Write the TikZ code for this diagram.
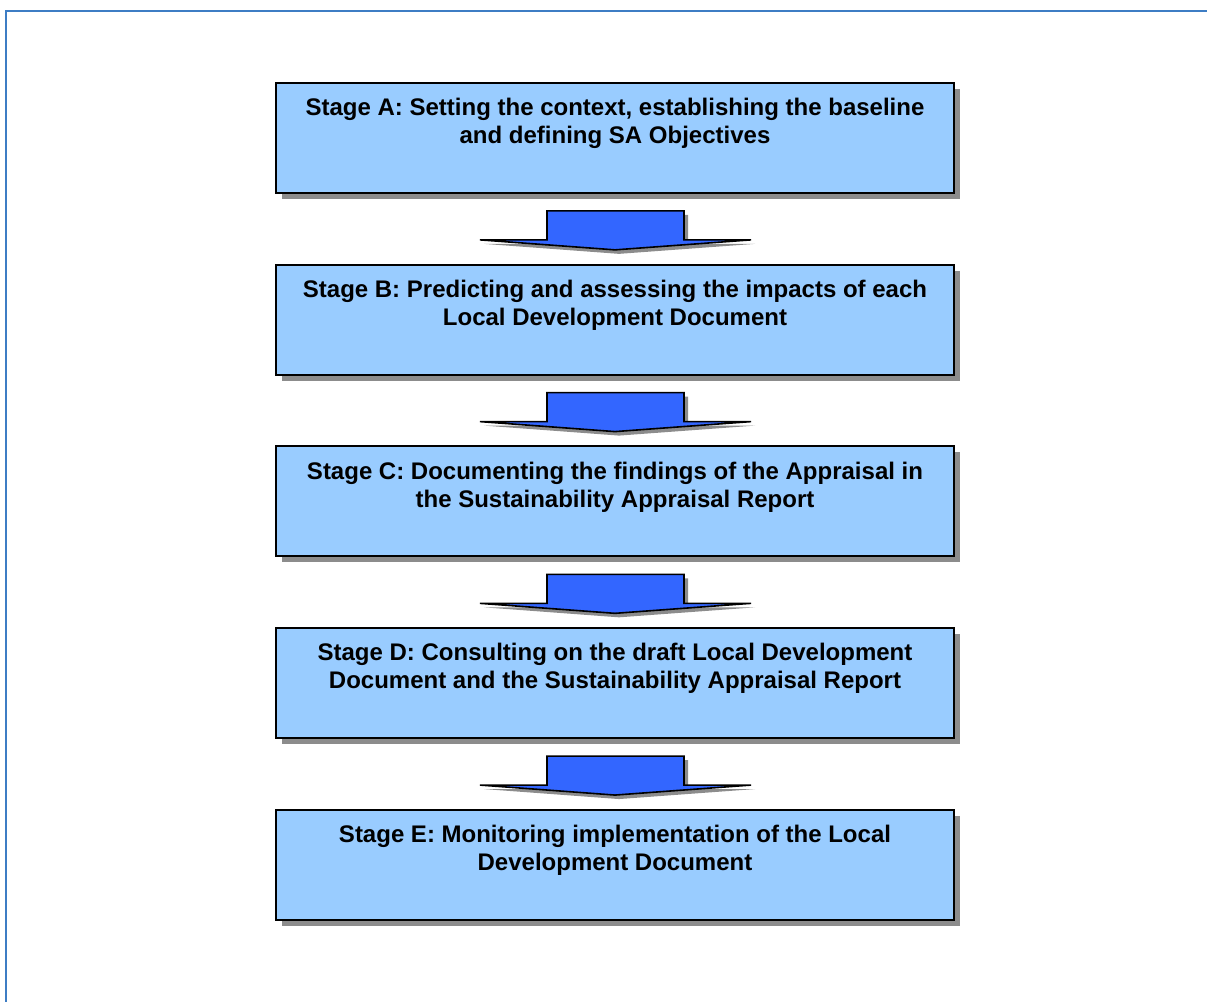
\documentclass[tikz,border=0pt]{standalone}
\usepackage{fontspec}
\setmainfont{Liberation Sans}
\usetikzlibrary{positioning,calc,shadows}

\definecolor{stagefill}{HTML}{99CCFF}
\definecolor{arrowfill}{HTML}{3366FF}
\definecolor{frameblue}{HTML}{3D7DC4}

\tikzset{
  stagebox/.style={draw=black, line width=1.5pt, fill=stagefill,
    minimum width=508.5pt, minimum height=82.5pt, inner sep=0pt,
    drop shadow={shadow xshift=4.5pt, shadow yshift=-4.5pt, fill=gray!90, opacity=1}},
  stagetext/.style={anchor=north, align=center, font=\bfseries\fontsize{18}{21}\selectfont,
    inner sep=0pt, yshift=-12pt},
  stagearrow/.style={draw=black, line width=1.2pt, fill=arrowfill, line join=miter,
    drop shadow={shadow xshift=3pt, shadow yshift=-3pt, fill=gray!90, opacity=1}}
}

% block arrow between two stages
\newcommand{\stagearrow}[2]{%
  \coordinate (m) at ($(#1.south)!0.5!(#2.north)$);
  \draw[stagearrow] ($(m)+(-68,-18)$) -- ($(m)+(69,-18)$) -- ($(m)+(69,11)$)
    -- ($(m)+(136,11)$) -- ($(m)+(0,21)$) -- ($(m)+(-135,11)$)
    -- ($(m)+(-68,11)$) -- cycle;
}

\begin{document}
\begin{tikzpicture}[x=0.75pt,y=-0.75pt]
\useasboundingbox (0,0) rectangle (1207,1002);
\draw[frameblue, line width=2.2pt] (6,1010) -- (6,11) -- (1215,11);

\node[stagebox] (stageA) at (615,138) {};
\node[stagebox, below=52.3pt of stageA] (stageB) {};
\node[stagebox, below=52.3pt of stageB] (stageC) {};
\node[stagebox, below=52.3pt of stageC] (stageD) {};
\node[stagebox, below=52.3pt of stageD] (stageE) {};

\node[stagetext] (textA) at (stageA.north) {Stage A: Setting the context, establishing the baseline\\and defining SA Objectives};
\node[stagetext] (textB) at (stageB.north) {Stage B: Predicting and assessing the impacts of each\\Local Development Document};
\node[stagetext] (textC) at (stageC.north) {Stage C: Documenting the findings of the Appraisal in\\the Sustainability Appraisal Report};
\node[stagetext] (textD) at (stageD.north) {Stage D: Consulting on the draft Local Development\\Document and the Sustainability Appraisal Report};
\node[stagetext] (textE) at (stageE.north) {Stage E: Monitoring implementation of the Local\\Development Document};

\stagearrow{stageA}{stageB}
\stagearrow{stageB}{stageC}
\stagearrow{stageC}{stageD}
\stagearrow{stageD}{stageE}

\end{tikzpicture}
\end{document}
